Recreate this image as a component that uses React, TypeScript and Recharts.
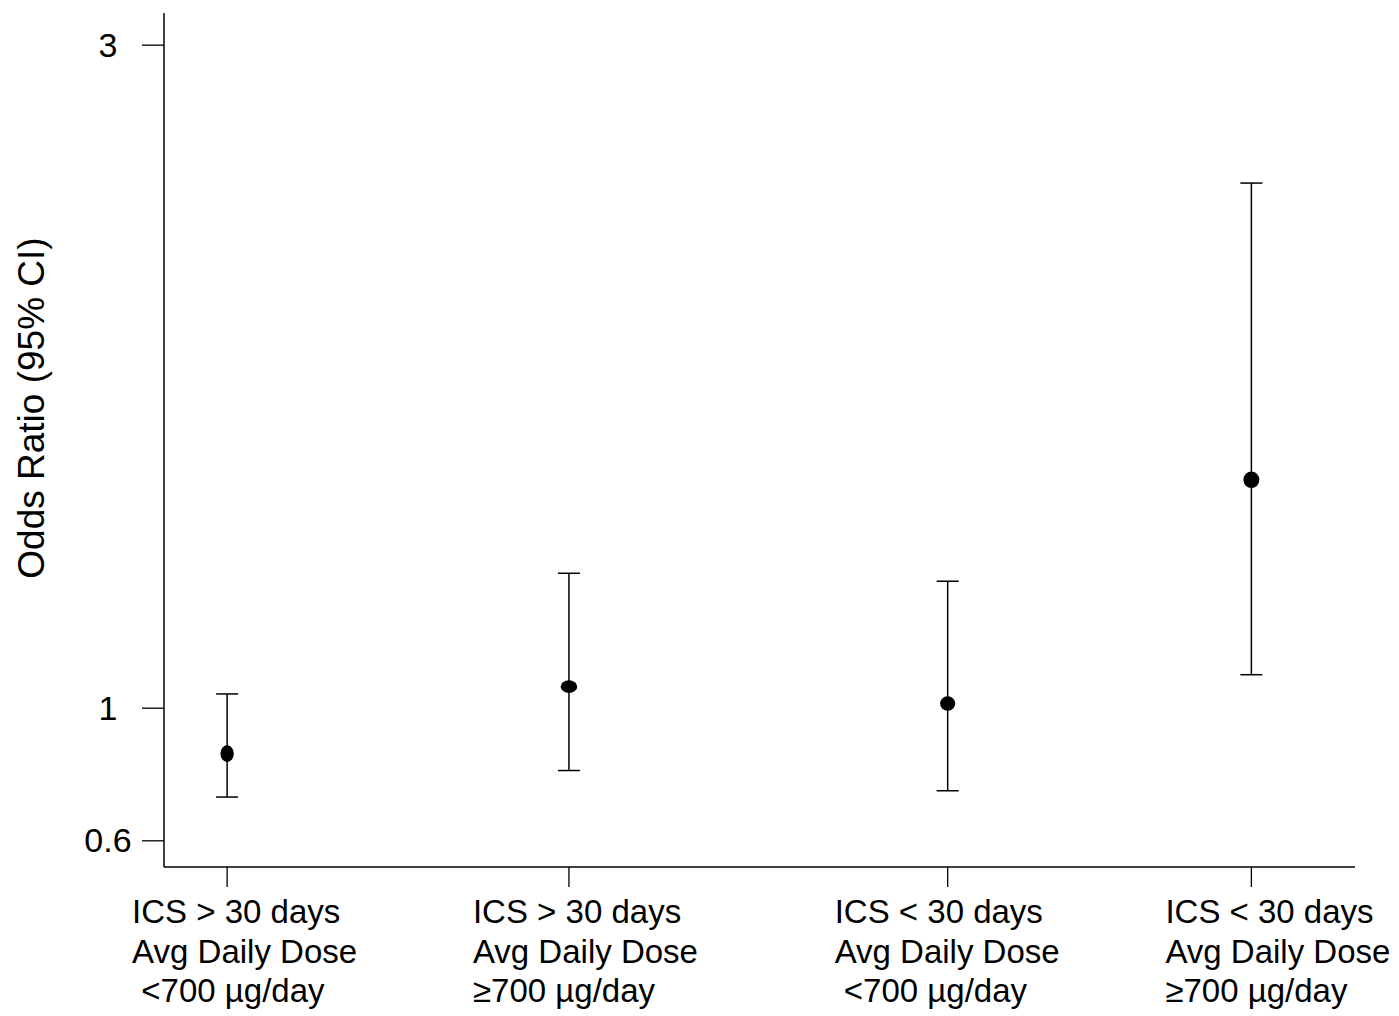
import { ScatterChart, Scatter, XAxis, YAxis, ErrorBar } from 'recharts';

// group labels, one line per entry
const groupLabels = [
  ['ICS > 30 days', 'Avg Daily Dose', ' <700 µg/day'],
  ['ICS > 30 days', 'Avg Daily Dose', '≥700 µg/day'],
  ['ICS < 30 days', 'Avg Daily Dose', ' <700 µg/day'],
  ['ICS < 30 days', 'Avg Daily Dose', '≥700 µg/day'],
];
const groupPositions = [0.53, 3.4, 6.58, 9.13];
const oddsRatios = [0.863, 1.065, 1.014, 1.689];
const ciLower = [0.732, 0.812, 0.751, 1.101];
const ciUpper = [1.043, 1.407, 1.383, 2.584];
const yTicks = [0.6, 1, 3];

// styling only
const labelShift = [-95, -96, -113, -86];
const markerRadii = [
  [6.7, 8.3],
  [8.3, 6.3],
  [7.6, 7.2],
  [8, 8.3],
];

const FONT = '"Liberation Sans", Arial, sans-serif';

const data = groupPositions.map((x, i) => ({
  x,
  or: oddsRatios[i],
  err: [oddsRatios[i] - ciLower[i], ciUpper[i] - oddsRatios[i]],
}));

const XTick = (props: any) => {
  const { x, y, payload } = props;
  const i = groupPositions.indexOf(payload.value);
  if (i < 0) return null;
  return (
    <text
      x={x + labelShift[i]}
      y={y + 34}
      textAnchor="start"
      fontSize={33}
      fontFamily={FONT}
      fill="#000"
      style={{ whiteSpace: 'pre' }}
    >
      {groupLabels[i].map((line, k) => (
        <tspan key={k} x={x + labelShift[i]} dy={k === 0 ? 0 : 39.5}>
          {line}
        </tspan>
      ))}
    </text>
  );
};

const YTick = (props: any) => {
  const { x, y, payload } = props;
  return (
    <text
      x={x - 32}
      y={y}
      dy="0.34em"
      textAnchor="middle"
      fontSize={34}
      fontFamily={FONT}
      fill="#000"
    >
      {payload.value}
    </text>
  );
};

const Dot = (props: any) => {
  const { cx, cy, payload } = props;
  const i = groupPositions.indexOf(payload.x);
  const [rx, ry] = markerRadii[i] || [7.5, 7.5];
  return <ellipse cx={cx} cy={cy} rx={rx} ry={ry} fill="#000" />;
};

export default function App() {
  return (
    <div style={{ position: 'absolute', left: 0, top: 0, background: '#fff' }}>
      <ScatterChart
        width={1399}
        height={1016}
        margin={{ top: 13, right: 44, bottom: 0, left: 0 }}
      >
        <XAxis
          type="number"
          dataKey="x"
          domain={[0, 10]}
          ticks={groupPositions}
          interval={0}
          height={149}
          tickSize={20}
          tick={<XTick />}
          axisLine={{ stroke: '#000', strokeWidth: 1.5 }}
          tickLine={{ stroke: '#000', strokeWidth: 1.3 }}
        />
        <YAxis
          type="number"
          dataKey="or"
          domain={[0.521, 3.097]}
          allowDataOverflow
          ticks={yTicks}
          interval={0}
          width={164}
          tickSize={22}
          tick={<YTick />}
          axisLine={{ stroke: '#000', strokeWidth: 1.5 }}
          tickLine={{ stroke: '#000', strokeWidth: 1.3 }}
          label={{
            content: () => (
              <text
                x={31}
                y={408}
                transform="rotate(-90 31 408)"
                textAnchor="middle"
                dominantBaseline="central"
                fontSize={37}
                fontFamily={FONT}
                fill="#000"
              >
                Odds Ratio (95% CI)
              </text>
            ),
          }}
        />
        <Scatter data={data} fill="#000" shape={<Dot />} isAnimationActive={false}>
          <ErrorBar
            dataKey="err"
            direction="y"
            width={11}
            stroke="#000"
            strokeWidth={1.5}
            isAnimationActive={false}
          />
        </Scatter>
      </ScatterChart>
    </div>
  );
}
